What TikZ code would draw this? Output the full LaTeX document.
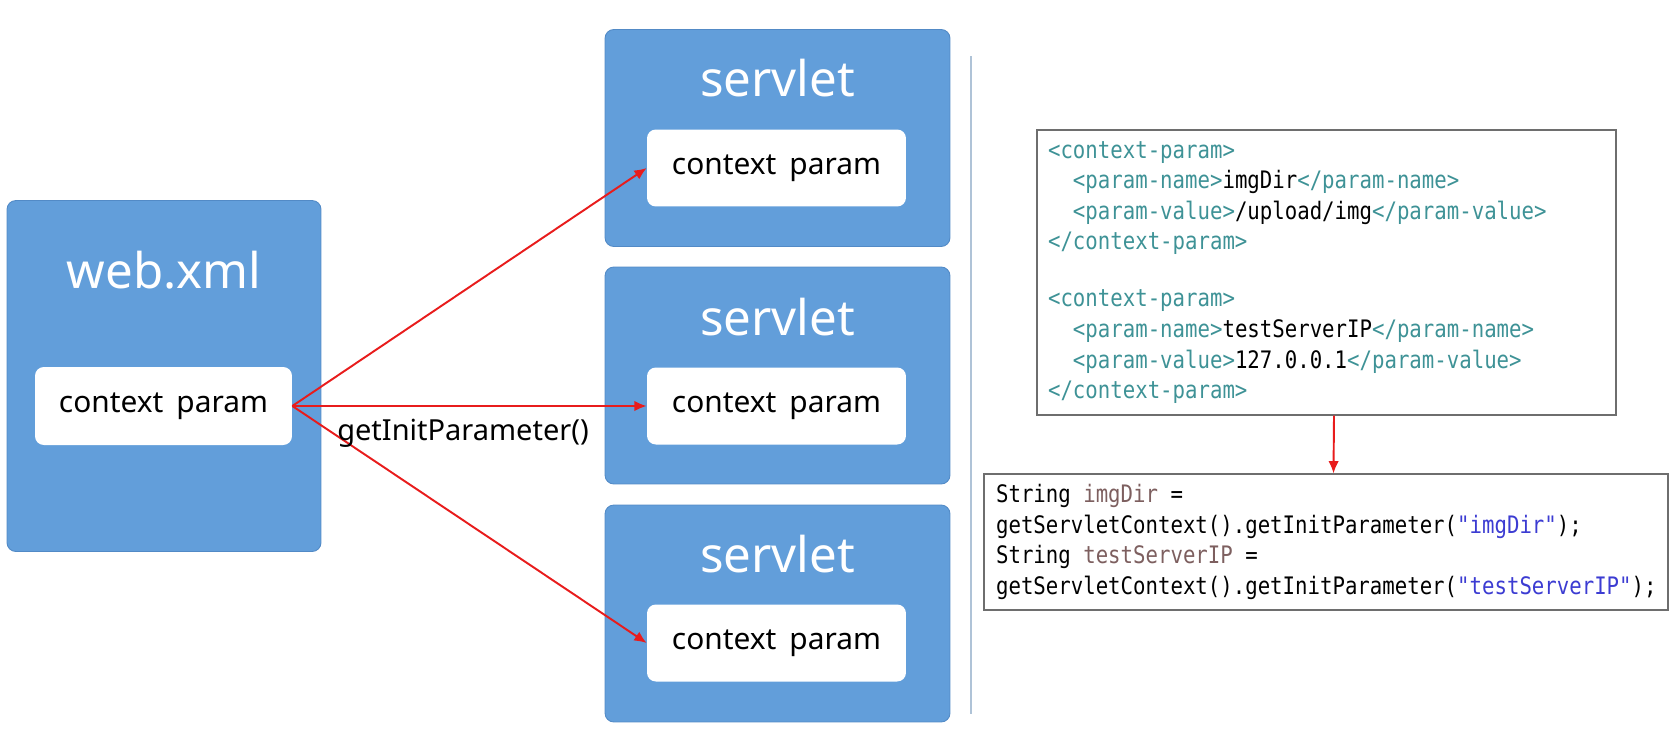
\documentclass[tikz,border=0pt]{standalone}
\usepackage{fontspec}
\setmainfont{Noto Sans}
\newfontfamily\codefont[FakeStretch=0.86]{DejaVu Sans Mono}
\usetikzlibrary{arrows.meta}

\definecolor{boxblue}{RGB}{98,158,218}
\definecolor{boxline}{RGB}{82,138,198}
\definecolor{arrowred}{RGB}{232,28,28}
\definecolor{divline}{RGB}{175,195,215}
\definecolor{codeline}{RGB}{110,110,110}
\definecolor{tagteal}{RGB}{62,146,150}
\definecolor{varbrown}{RGB}{125,95,95}
\definecolor{strblue}{RGB}{60,60,210}

\newcommand{\xtag}[1]{\textcolor{tagteal}{#1}}
\newcommand{\jvar}[1]{\textcolor{varbrown}{#1}}
\newcommand{\jstr}[1]{\textcolor{strblue}{#1}}
\newcommand{\csp}{\phantom{x}}

\begin{document}
\begin{tikzpicture}[x=0.02cm, y=-0.02cm,
	bigbox/.style={rectangle, rounded corners=5pt, fill=boxblue, draw=boxline, line width=0.5pt},
	parambox/.style={rectangle, rounded corners=5pt, fill=white, font=\fontsize{17}{20}\selectfont},
	boxtitle/.style={text=white, font=\fontsize{28}{32}\selectfont},
	link/.style={-{Latex[length=7pt,width=6pt]}, draw=arrowred, line width=1.1pt},
	codebox/.style={rectangle, draw=codeline, line width=0.7pt, align=left, font=\codefont\fontsize{13.7}{17.4}\selectfont}]

	\useasboundingbox (0,0) rectangle (1676,744);

	% web.xml
	\node[bigbox, minimum width=6.28cm, minimum height=7.02cm] (web) at (164,376) {};
	\node[boxtitle] (webtitle) at (164,270) {web.xml};
	\node[parambox, minimum width=5.14cm, minimum height=1.56cm] (webparam) at (163.5,406) {context\hspace{3pt} param};

	% servlets
	\foreach \i/\y/\t/\p in {1/138/78/168, 2/375.5/317/406, 3/613.5/554/643}{
		\node[bigbox, minimum width=6.9cm, minimum height=4.34cm] (s\i) at (777.5,\y) {};
		\node[boxtitle] (st\i) at (777.5,\t) {servlet};
		\node[parambox, minimum width=5.18cm, minimum height=1.54cm] (sp\i) at (776.5,\p) {context\hspace{3pt} param};
	}

	\foreach \i in {1,2,3}
	\draw[link] (webparam.east) -- (sp\i.west);
	\node[font=\fontsize{16.5}{20}\selectfont] (call) at (463,433) {getInitParameter()};

	% divider
	\coordinate (divtop) at (971,56);
	\coordinate (divbot) at (971,714);
	\draw[divline, line width=1pt] (divtop) -- (divbot);

	% web.xml code
	\node[codebox, minimum width=11.58cm, minimum height=5.7cm, text width=11.14cm, inner xsep=0.22cm] (xml) at (1326.5,272.5) {%
		\xtag{<context-param>}\\
		\csp\csp\xtag{<param-name>}imgDir\xtag{</param-name>}\\
		\csp\csp\xtag{<param-value>}/upload/img\xtag{</param-value>}\\
		\xtag{</context-param>}\\[15pt]
		\xtag{<context-param>}\\
		\csp\csp\xtag{<param-name>}testServerIP\xtag{</param-name>}\\
		\csp\csp\xtag{<param-value>}127.0.0.1\xtag{</param-value>}\\
		\xtag{</context-param>}};

	% java code
	\node[codebox, minimum width=13.68cm, minimum height=2.72cm, text width=13.2cm, inner xsep=0.24cm] (java) at (1326,542) {%
		String\csp\jvar{imgDir}\csp=\\
		getServletContext().getInitParameter(\jstr{"imgDir"});\\
		String\csp\jvar{testServerIP}\csp=\\
		getServletContext().getInitParameter(\jstr{"testServerIP"});};

	\draw[link] ([xshift=0.15cm]xml.south) -- ([xshift=0.15cm]java.north);
\end{tikzpicture}
\end{document}
